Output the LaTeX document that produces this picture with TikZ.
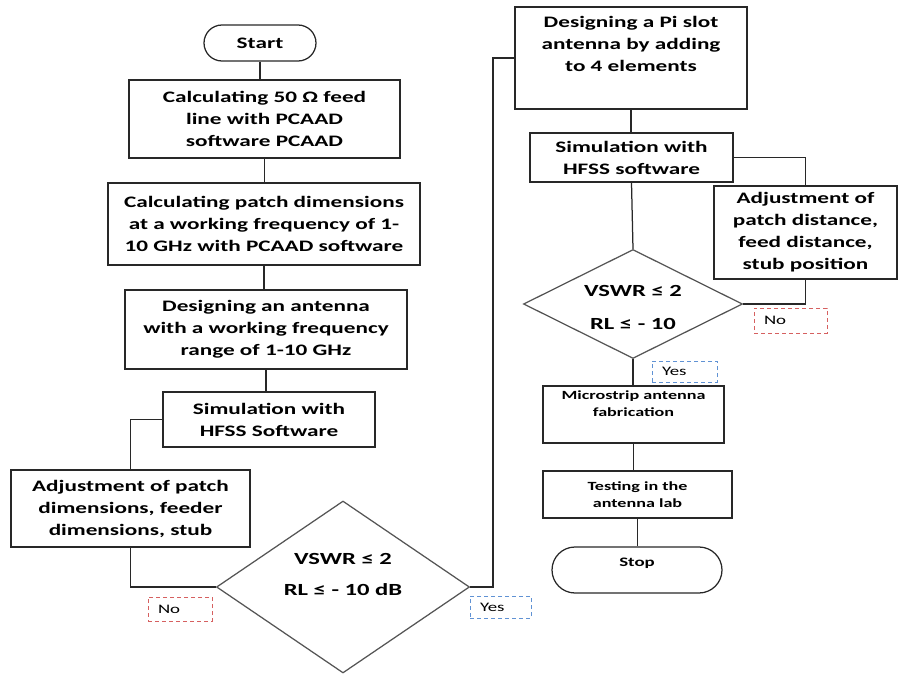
\documentclass[tikz,border=0pt]{standalone}
\usepackage{fontspec}
\setmainfont{Carlito}[FakeStretch=1.45]
\usetikzlibrary{shapes.geometric,shapes.misc}
\definecolor{linegray}{RGB}{40,40,40}
\definecolor{diagray}{RGB}{85,85,85}
\definecolor{nored}{RGB}{214,96,96}
\definecolor{yesblue}{RGB}{96,146,212}

\begin{document}
\begin{tikzpicture}[x=1pt,y=-1pt,line width=1.25pt,draw=linegray,
  box/.style={draw,rectangle,align=center,inner sep=2pt,font=\fontsize{16}{22}\selectfont\bfseries},
  smallbox/.style={box,font=\fontsize{12.5}{17}\selectfont\bfseries},
  term/.style={draw,rounded rectangle,align=center,inner sep=2pt},
  decide/.style={draw=diagray,diamond,inner sep=0pt},
  dtext/.style={align=center,font=\fontsize{17}{22}\selectfont\bfseries},
  tag/.style={dash pattern=on 4pt off 3pt,line width=0.9pt,text width=#1,align=left,inner xsep=10pt,inner ysep=0pt,font=\fontsize{13}{15}\selectfont},
  notag/.style={tag=#1,draw=nored},
  yestag/.style={tag=#1,draw=yesblue}]
\useasboundingbox (0,0) rectangle (898,674);

\node[term,minimum width=116pt,minimum height=36pt,font=\fontsize{16}{22}\selectfont\bfseries] (start) at (260,43) {Start};
\node[box,minimum width=271pt,minimum height=78pt] (feed) at (264.5,119) {Calculating 50 Ω feed\\line with PCAAD\\software PCAAD};
\node[box,minimum width=312pt,minimum height=82pt] (patch) at (264,224) {Calculating patch dimensions\\at a working frequency of 1-\\10 GHz with PCAAD software};
\node[box,minimum width=282pt,minimum height=79pt] (design) at (266,329.5) {Designing an antenna\\with a working frequency\\range of 1-10 GHz};
\node[box,minimum width=212pt,minimum height=55pt] (sim) at (269,419.5) {Simulation with\\HFSS Software};
\node[box,minimum width=239pt,minimum height=77pt] (adj) at (130.5,508.5) {Adjustment of patch\\dimensions, feeder\\dimensions, stub};
\node[decide,minimum width=253pt,minimum height=172pt] (check) at (343,587) {};
\node[dtext] (checktxt) at (343,574) {VSWR ≤ 2\\[9pt]RL ≤ - 10 dB};
\node[notag=44pt,minimum height=24pt] (no) at (180,609) {No};
\node[yestag=41pt,minimum height=22pt] (yes) at (500.5,607) {Yes};

\node[box,minimum width=232pt,minimum height=102pt] (pislot) at (631,58) {Designing a Pi slot\\antenna by adding\\to 4 elements\\\strut};
\node[box,minimum width=203pt,minimum height=49pt] (simpi) at (631.5,157.5) {Simulation with\\HFSS software};
\node[box,minimum width=183pt,minimum height=93pt] (adjpi) at (805.5,232.5) {Adjustment of\\patch distance,\\feed distance,\\stub position};
\node[decide,minimum width=219pt,minimum height=109pt] (checkpi) at (633,304) {};
\node[dtext] (checkpitxt) at (633,307) {VSWR ≤ 2\\[11pt]RL ≤ - 10};
\node[notag=53pt,minimum height=25pt] (nopi) at (790.5,320.5) {No};
\node[yestag=45pt,minimum height=21pt] (yespi) at (684.5,371.5) {Yes};
\node[smallbox,minimum width=181pt,minimum height=57pt] (fab) at (633.5,414.5) {Microstrip antenna\\fabrication\\\strut};
\node[smallbox,minimum width=189pt,minimum height=47pt] (test) at (637.5,494.5) {Testing in the\\antenna lab};
\node[term,minimum width=174pt,minimum height=46pt,font=\fontsize{13}{12}\selectfont\bfseries] (stop) at (637,570) {Stop\\\strut};

\draw (start.south) -- (start.south |- feed.north);
\draw (feed.south) -- (feed.south |- patch.north);
\draw (patch.south) -- (patch.south |- design.north);
\draw (design.south) -- (design.south |- sim.north);
\draw (sim.west) -| (adj.north);
\draw (adj.south) |- (check.west);
\coordinate (jog) at (493,58);
\draw (check.east) -| (jog) -- (pislot.west);
\draw (pislot.south) -- (pislot.south |- simpi.north);
\draw (simpi.south) -- (checkpi.north);
\draw (simpi.east) -| (adjpi.north);
\draw (adjpi.south) |- (checkpi.east);
\draw (checkpi.south) -- (checkpi.south |- fab.north);
\draw (fab.south) -- (fab.south |- test.north);
\draw (test.south) -- (test.south |- stop.north);
\end{tikzpicture}
\end{document}
